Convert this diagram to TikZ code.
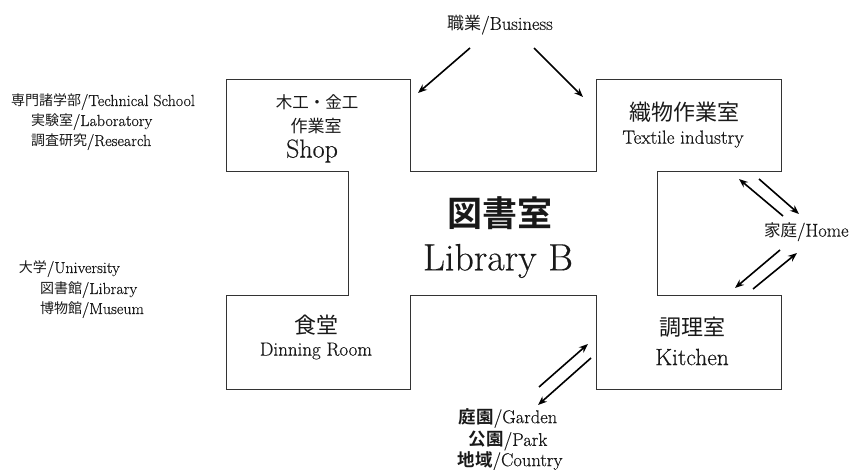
\documentclass[tikz,border=0pt]{standalone}
\usepackage{fontspec}
\setmainfont{Latin Modern Roman}[FakeBold=0.4]
\newfontfamily\jp{Noto Sans CJK JP}
\newfontfamily\jpb{Noto Sans CJK JP Bold}
\usetikzlibrary{arrows.meta}
\newcommand\myfs[1]{\fontsize{#1}{#1}\selectfont}
\tikzset{
  wall/.style={draw=black!80, line width=1pt, line join=miter},
  txt/.style={inner sep=0pt, outer sep=0pt, text=black!90},
  arr/.style={-{Stealth[length=9pt,width=7pt]}, line width=1.6pt, black}
}
\begin{document}
\begin{tikzpicture}[x=1pt,y=-1pt]
\useasboundingbox (0,0) rectangle (854,470);
% outline of the floor plan
\draw[wall] (226,80) -- (410,80) -- (410,172) -- (596,172) -- (596,80) -- (781,80)
  -- (781,172) -- (657,172) -- (657,296) -- (781,296) -- (781,389) -- (596,389)
  -- (596,296) -- (410,296) -- (410,389) -- (226,389) -- (226,296) -- (348,296)
  -- (348,172) -- (226,172) -- cycle;
% room labels
\node[txt] (shop1) at (317,102) {\jp\myfs{16.5}木工・金工};
\node[txt] (shop2) at (316,126) {\jp\myfs{17}作業室};
\node[txt] (shop3) at (312,151) {\myfs{26}Shop};
\node[txt] (tex1) at (684,112) {\jp\myfs{22}織物作業室};
\node[txt] (tex2) at (683,139) {\myfs{19}Textile industry};
\node[txt] (lib1) at (500,213) {\jpb\myfs{35}図書室};
\node[txt] (lib2) at (498,261) {\myfs{38}Library B};
\node[txt] (din1) at (316,325) {\jp\myfs{22}食堂};
\node[txt] (din2) at (316,351) {\myfs{19}Dinning Room};
\node[txt] (kit1) at (692,327) {\jp\myfs{22}調理室};
\node[txt] (kit2) at (692,357) {\myfs{23.5}Kitchen};
% outside labels
\node[txt] (bus) at (500,25) {{\jp\myfs{17}職業}\myfs{18.5}/Business};
\node[txt, anchor=west] (tech) at (11,102) {{\jp\myfs{14}専門諸学部}\myfs{16}/Technical School};
\node[txt, anchor=west] (lab) at (31,122) {{\jp\myfs{14}実験室}\myfs{16}/Laboratory};
\node[txt, anchor=west] (res) at (31,142) {{\jp\myfs{14}調査研究}\myfs{16}/Research};
\node[txt, anchor=west] (uni) at (19,269) {{\jp\myfs{14}大学}\myfs{16}/University};
\node[txt, anchor=west] (libr) at (40,290) {{\jp\myfs{14}図書館}\myfs{16}/Library};
\node[txt, anchor=west] (mus) at (40,310) {{\jp\myfs{14}博物館}\myfs{16}/Museum};
\node[txt, anchor=west] (home) at (764,232) {{\jp\myfs{16.5}家庭}\myfs{18.5}/Home};
\node[txt] (gard) at (508,418) {{\jpb\myfs{17.5}庭園}\myfs{18.5}/Garden};
\node[txt] (park) at (508,441) {{\jpb\myfs{17.5}公園}\myfs{18.5}/Park};
\node[txt] (ctry) at (510,461) {{\jpb\myfs{17.5}地域}\myfs{18.5}/Country};
% arrow end points
\coordinate (b1s) at (470,48);  \coordinate (b1e) at (418,93);
\coordinate (b2s) at (534,48);  \coordinate (b2e) at (583,97);
\coordinate (h1s) at (783,216); \coordinate (h1e) at (739,179);
\coordinate (h2s) at (759,179); \coordinate (h2e) at (799,214);
\coordinate (h3s) at (780,250); \coordinate (h3e) at (735,288);
\coordinate (h4s) at (753,289); \coordinate (h4e) at (797,253);
\coordinate (g1s) at (539,387); \coordinate (g1e) at (588,344);
\coordinate (g2s) at (591,358); \coordinate (g2e) at (538,405);
\draw[arr] (b1s) -- (b1e);
\draw[arr] (b2s) -- (b2e);
\draw[arr] (h1s) -- (h1e);
\draw[arr] (h2s) -- (h2e);
\draw[arr] (h3s) -- (h3e);
\draw[arr] (h4s) -- (h4e);
\draw[arr] (g1s) -- (g1e);
\draw[arr] (g2s) -- (g2e);
\end{tikzpicture}
\end{document}
